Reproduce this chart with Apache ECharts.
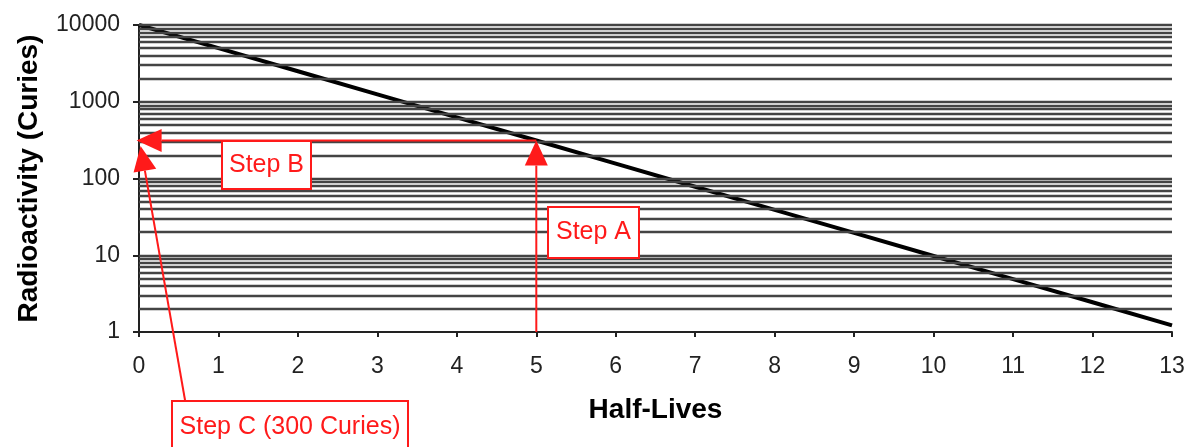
<!DOCTYPE html>
<html>
<head>
<meta charset="utf-8">
<script src="https://cdn.jsdelivr.net/npm/echarts@6/dist/echarts.min.js"></script>
<style>
html,body{margin:0;padding:0;background:#fff;}
#chart{width:1189px;height:447px;}
</style>
</head>
<body>
<div id="chart"></div>
<script>
// ---- data ----
const halfLives = [0, 1, 2, 3, 4, 5, 6, 7, 8, 9, 10, 11, 12, 13];
const curies = [10000, 5000, 2500, 1250, 625, 312.5, 156.25, 78.13, 39.06, 19.53, 9.77, 4.88, 2.44, 1.22];
const xTicks = [0, 1, 2, 3, 4, 5, 6, 7, 8, 9, 10, 11, 12, 13];
const yTicks = [1, 10, 100, 1000, 10000];
const gridValues = [2, 3, 4, 5, 6, 7, 8, 9, 10, 20, 30, 40, 50, 60, 70, 80, 90, 100,
  200, 300, 400, 500, 600, 700, 800, 900, 1000, 2000, 3000, 4000, 5000, 6000, 7000, 8000, 9000, 10000];
const xTitle = 'Half-Lives';
const yTitle = 'Radioactivity (Curies)';
// annotations (data coordinates)
const stepALabel = 'Step A';
const stepBLabel = 'Step B';
const stepCLabel = 'Step C (300 Curies)';
const stepAArrow = [[5, 1], [5, 312.5]];
const stepBArrow = [[5, 312.5], [-0.03, 312.5]];
const stepCArrow = [[0.58, 0.128], [0.02, 265]];
const stepABox = [[5.15, 42.5], [6.3, 9.2]];
const stepBBox = [[1.05, 312.5], [2.17, 75]];
const stepCBox = [[0.41, 0.126], [3.38, 0.02]];

const FONT = '"Liberation Sans", Arial, sans-serif';
const RED = '#ff1a1a';

const chart = echarts.init(document.getElementById('chart'));
chart.setOption({
  animation: false,
  backgroundColor: '#fff',
  grid: { left: 139, right: 17, top: 25, bottom: 115, containLabel: false },
  xAxis: {
    type: 'value', min: 0, max: 13, interval: 1,
    name: xTitle, nameLocation: 'middle', nameGap: 64,
    nameTextStyle: { fontFamily: FONT, fontSize: 28, fontWeight: 'bold', color: '#000' },
    axisLine: { lineStyle: { color: '#222', width: 2 } },
    axisTick: { show: true, length: 5, lineStyle: { color: '#222', width: 2 } },
    axisLabel: { fontFamily: FONT, fontSize: 23, color: '#222', margin: 23,
      formatter: v => xTicks.includes(v) ? String(v) : '' },
    splitLine: { show: false }
  },
  yAxis: {
    type: 'log', logBase: 10, min: 1, max: 10000,
    name: yTitle, nameLocation: 'middle', nameGap: 96, nameRotate: 90,
    nameTextStyle: { fontFamily: FONT, fontSize: 28, fontWeight: 'bold', color: '#000' },
    axisLine: { show: true, lineStyle: { color: '#222', width: 2 } },
    axisTick: { show: true, length: 6, lineStyle: { color: '#222', width: 2 } },
    axisLabel: { fontFamily: FONT, fontSize: 23, color: '#222', margin: 19,
      formatter: v => yTicks.includes(v) ? String(v) : '' },
    splitLine: { show: false }
  },
  series: [
    {
      type: 'line', data: [], z: 1, silent: true,
      markLine: {
        silent: true, symbol: ['none', 'none'], label: { show: false },
        lineStyle: { color: '#444', width: 2.4, type: 'solid' },
        emphasis: { disabled: true },
        data: gridValues.map(v => ({ yAxis: v }))
      }
    },
    {
      type: 'line', z: 3,
      data: halfLives.map((x, i) => [x, curies[i]]),
      showSymbol: false, symbol: 'none',
      lineStyle: { color: '#000', width: 4 }
    }
  ]
});

function px(p) { return chart.convertToPixel({ gridIndex: 0 }, p); }

function arrow(pair) {
  const a = px(pair[0]), b = px(pair[1]);
  const dx = b[0] - a[0], dy = b[1] - a[1];
  const len = Math.hypot(dx, dy);
  const ux = dx / len, uy = dy / len;
  const hl = 25, hw = 11.5;
  const bx = b[0] - ux * hl, by = b[1] - uy * hl;
  const nx = -uy, ny = ux;
  return [
    { type: 'line', z: 10, shape: { x1: a[0], y1: a[1], x2: bx, y2: by },
      style: { stroke: RED, lineWidth: 2 } },
    { type: 'polygon', z: 11, shape: { points: [[b[0], b[1]], [bx + nx * hw, by + ny * hw], [bx - nx * hw, by - ny * hw]] },
      style: { fill: RED } }
  ];
}
function box(pair, text) {
  const a = px(pair[0]), b = px(pair[1]);
  const x = Math.round(Math.min(a[0], b[0])), y = Math.round(Math.min(a[1], b[1]));
  const w = Math.round(Math.abs(b[0] - a[0])), h = Math.round(Math.abs(b[1] - a[1]));
  return [
    { type: 'rect', z: 12, shape: { x: x, y: y, width: w, height: h },
      style: { fill: '#fff', stroke: RED, lineWidth: 2 } },
    { type: 'text', z: 13, x: x + w / 2, y: y + Math.min(h, 52) / 2,
      style: { text: text, fill: RED, font: '25px ' + FONT, align: 'center', verticalAlign: 'middle' } }
  ];
}
function drawAnno() {
  const els = [].concat(
    arrow(stepAArrow), arrow(stepBArrow), arrow(stepCArrow),
    box(stepABox, stepALabel), box(stepBBox, stepBLabel), box(stepCBox, stepCLabel)
  );
  chart.setOption({ graphic: { elements: els } }, { replaceMerge: ['graphic'] });
}
drawAnno();
</script>
</body>
</html>
